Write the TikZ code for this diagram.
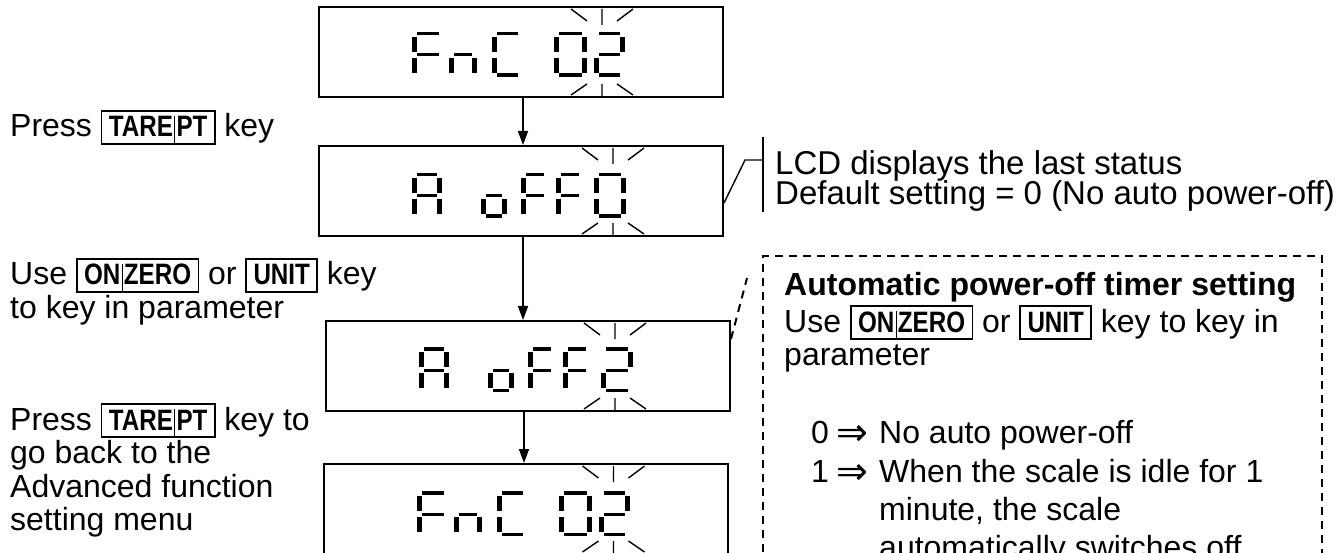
\documentclass[tikz,border=0pt]{standalone}
\usepackage{fontspec}
\setmainfont{Liberation Sans}
\newfontfamily\keyfont[FakeStretch=0.82]{Liberation Sans}
\newfontfamily\symfont{DejaVu Sans}
\usetikzlibrary{arrows.meta}
\newcommand\kbar{\hspace{1.2pt}\rule[-6.4pt]{1.1pt}{27pt}\hspace{1.2pt}}
\newcommand\kk[1]{{\setlength\fboxsep{0pt}\setlength\fboxrule{1.6pt}\fbox{\rule[-6.4pt]{0pt}{31.8pt}\hspace{6.5pt}{\keyfont\bfseries\fontsize{29.5}{30}\selectfont #1}\hspace{6.5pt}}}}
\newcommand\imp{\raisebox{-2.5pt}{\symfont\fontsize{38}{38}\selectfont ⇒}}
% seven-segment pieces (y grows downward)
\def\sga{\fill (5,0) rectangle (\dw-5,3.5);}
\def\sgf{\fill (0,5) rectangle (5,20);}
\def\sgb{\fill (\dw-5,5) rectangle (\dw,20);}
\def\sgg{\fill (5,21.5) rectangle (\dw-5,24.5);}
\def\sge{\fill (0,26) rectangle (5,41);}
\def\sgc{\fill (\dw-5,26) rectangle (\dw,41);}
\def\sgd{\fill (5,41.5) rectangle (\dw-5,45);}
\newcommand\dg[4]{\begin{scope}[shift={(#1,#2)}]\def\dw{#3}\foreach \s in {#4}{\csname sg\s\endcsname}\end{scope}}
\newcommand\fnc[2]{\begin{scope}[shift={(#1.north west)}]
 \dg{94}{#2}{32}{a,f,g,e}\dg{131}{#2}{28}{g,e,c}\dg{174}{#2}{31}{a,f,e,d}
 \dg{236}{#2}{33}{a,b,c,d,e,f}\dg{276}{#2}{31}{a,b,g,e,d}\end{scope}}
\newcommand\aoff[3]{\begin{scope}[shift={(#1.north west)}]
 \dg{94}{#2}{30}{a,b,c,e,f,g}\dg{163}{#2}{26}{g,c,d,e}\dg{203}{#2}{28}{a,f,g,e}
 \dg{238}{#2}{28}{a,f,g,e}\dg{276}{#2}{32}{#3}\end{scope}}
\newcommand\blink[2]{%
 \begin{scope}[shift={(#1.north west)}]
  \draw[tick] (#2-31,3) -- (#2-15,15) (#2,3) -- (#2,19) (#2+15,15) -- (#2+31,3);
 \end{scope}
 \begin{scope}[shift={(#1.south west)}]
  \draw[tick] (#2-31,-3) -- (#2-15,-14) (#2,-14) -- (#2,0) (#2+15,-14) -- (#2+31,-3);
 \end{scope}}
\begin{document}
\begin{tikzpicture}[x=1pt,y=-1pt,
  every node/.style={font=\fontsize{32}{36}\selectfont},
  lcd/.style={draw, line width=2pt, minimum width=404pt, minimum height=90pt, inner sep=0pt},
  tick/.style={line width=1.4pt},
  arr/.style={line width=1.5pt, -{Triangle[length=14pt,width=10pt]}},
  txt/.style={anchor=base west, inner sep=0pt},
  note/.style={txt, font=\fontsize{33}{36}\selectfont},
  dashline/.style={line width=2pt, dash pattern=on 8pt off 6pt}]
\useasboundingbox (0,0) rectangle (1341,553);
% LCD boxes
\node[lcd] (b1) at (521,52) {};
\node[lcd] (b2) at (521,191) {};
\node[lcd] (b3) at (528,366) {};
\node[lcd] (b4) at (525.5,509) {};
\fnc{b1}{26}
\aoff{b2}{28}{a,b,c,d,e,f}
\aoff{b3}{27}{a,b,g,e,d}
\fnc{b4}{28}
\blink{b1}{284}
\blink{b2}{295}
\blink{b3}{290}
\blink{b4}{291}
% arrows
\coordinate (ax) at (523,0);
\coordinate (ax2) at (524,0);
\draw[arr] (b1.south -| ax) -- (b2.north -| ax);
\draw[arr] (b2.south -| ax) -- (b3.north -| ax);
\draw[arr] (b3.south -| ax2) -- (b4.north -| ax2);
% left texts
\node[txt] (l1) at (10,137) {Press \kk{TARE\kbar PT} key};
\node[txt] (l2) at (10,285) {Use \kk{ON\kbar ZERO} or \kk{UNIT} key};
\node[txt] (l3) at (10,318) {to key in parameter};
\node[txt] (l4) at (10,430) {Press \kk{TARE\kbar PT} key to};
\node[txt] (l5) at (10,463) {go back to the};
\node[txt] (l6) at (10,497) {Advanced function};
\node[txt] (l7) at (10,530) {setting menu};
% LCD status note
\coordinate (brt) at (763,137);
\coordinate (brb) at (763,212);
\coordinate (brk) at (745,160);
\draw[line width=1.4pt] (brt) -- (brb);
\draw[line width=1.4pt] ([yshift=-58pt]b2.north east) -- (brk) -- (brk -| brt);
\node[note] (r1) at (775,175) {LCD displays the last status};
\node[note] (r2) at (775,205) {Default setting = 0 (No auto power-off)};
% dashed callout
\node[draw, dashline, minimum width=559pt, minimum height=344pt, inner sep=0pt] (db) at (1042.5,428) {};
\coordinate (dc) at (747,278);
\draw[dashline] ([yshift=-19pt]b3.north east) -- (dc);
\node[txt] (d1) at (784,295) {\textbf{Automatic power-off timer setting}};
\node[txt] (d2) at (784,332) {Use \kk{ON\kbar ZERO} or \kk{UNIT} key to key in};
\node[txt] (d3) at (784,365) {parameter};
\node[txt] (d4) at (811,443) {\makebox[68pt][l]{0\hspace{7pt}\imp}No auto power-off};
\node[txt] (d5) at (811,482) {\makebox[68pt][l]{1\hspace{7pt}\imp}When the scale is idle for 1};
\node[txt] (d6) at (879,520) {minute, the scale};
\node[txt] (d7) at (879,558) {automatically switches off};
\end{tikzpicture}
\end{document}
